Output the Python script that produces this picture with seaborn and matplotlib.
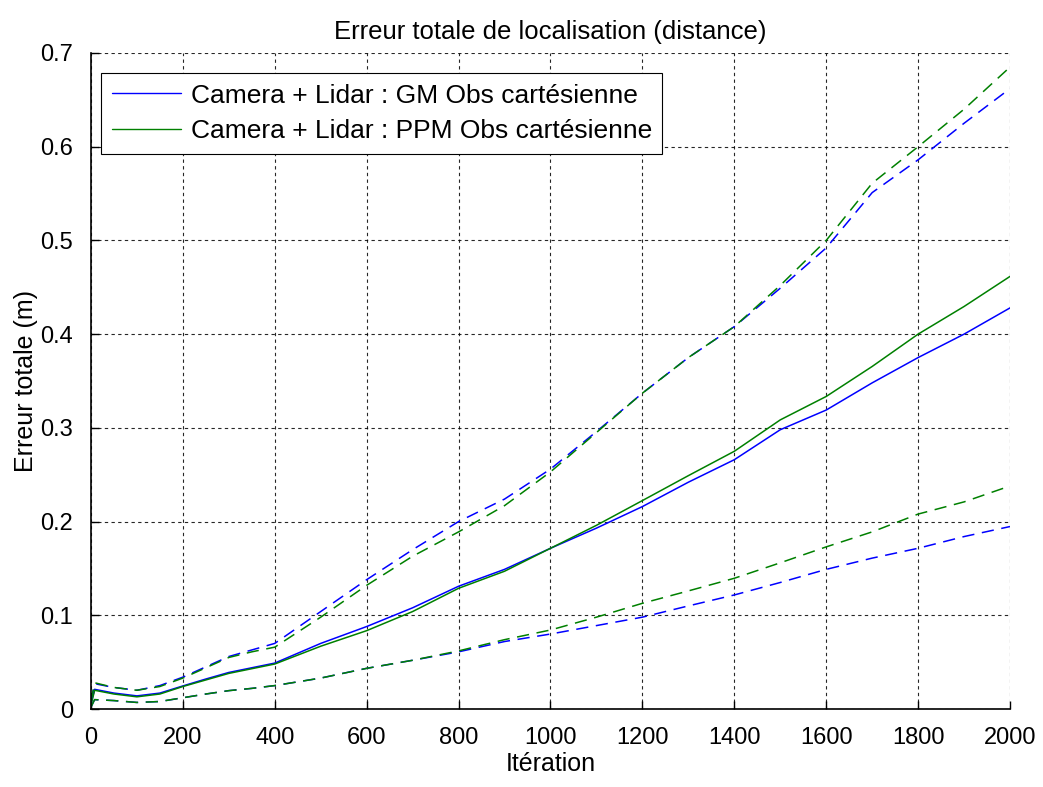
import pandas as pd
import matplotlib.pyplot as plt
import seaborn as sns

iteration = [0, 8, 50, 100, 150, 200, 250, 300, 350, 400, 500, 600, 700, 800, 900,
             1000, 1100, 1200, 1300, 1400, 1500, 1600, 1700, 1800, 1900, 2000]

# GM (blue)
gm_mean = [0.006, 0.021, 0.017, 0.014, 0.017, 0.0246, 0.032, 0.039, 0.044, 0.049, 0.070,
           0.088, 0.108, 0.131, 0.149, 0.1715, 0.193, 0.216, 0.242, 0.266, 0.298,
           0.319, 0.348, 0.375, 0.400, 0.428]
gm_upper = [0.008, 0.027, 0.023, 0.020, 0.025, 0.034, 0.045, 0.056, 0.063, 0.070, 0.104,
            0.138, 0.170, 0.200, 0.224, 0.256, 0.296, 0.337, 0.375, 0.408, 0.449,
            0.492, 0.551, 0.586, 0.625, 0.662]
gm_lower = [0.002, 0.010, 0.009, 0.007, 0.008, 0.012, 0.016, 0.0196, 0.022, 0.025, 0.033,
            0.0434, 0.052, 0.061, 0.072, 0.080, 0.089, 0.098, 0.110, 0.1217, 0.135,
            0.149, 0.161, 0.1715, 0.184, 0.1947]

# PPM (green)
ppm_mean = [0.004, 0.020, 0.016, 0.013, 0.016, 0.024, 0.031, 0.038, 0.043, 0.048, 0.067,
            0.0836, 0.104, 0.1288, 0.147, 0.1715, 0.196, 0.2224, 0.249, 0.275, 0.3085,
            0.3335, 0.3655, 0.400, 0.4295, 0.4616]
ppm_upper = [0.008, 0.028, 0.023, 0.020, 0.024, 0.033, 0.044, 0.055, 0.061, 0.066, 0.098,
             0.132, 0.163, 0.189, 0.217, 0.253, 0.295, 0.337, 0.375, 0.408, 0.452,
             0.500, 0.561, 0.600, 0.640, 0.685]
ppm_lower = [0.002, 0.010, 0.009, 0.007, 0.008, 0.012, 0.016, 0.0196, 0.022, 0.025, 0.033,
             0.0434, 0.052, 0.062, 0.074, 0.0843, 0.098, 0.1128, 0.126, 0.1395, 0.156,
             0.173, 0.189, 0.208, 0.221, 0.238]

label_gm = "Camera + Lidar : GM Obs cartésienne"
label_ppm = "Camera + Lidar : PPM Obs cartésienne"
blue = (0, 0, 1)
green = (0, 0.5, 0)

sns.set_style('white')
plt.rcParams['font.family'] = ['Liberation Sans', 'DejaVu Sans']
plt.rcParams['text.color'] = 'black'
plt.rcParams['axes.labelcolor'] = 'black'
plt.rcParams['xtick.color'] = 'black'
plt.rcParams['ytick.color'] = 'black'

fig = plt.figure(figsize=(10.43, 7.87), dpi=100)
ax = fig.add_axes([0.0872, 0.0991, 0.8812, 0.8336])

series = [
    (gm_mean, blue, '-'), (ppm_mean, green, '-'),
    (gm_upper, blue, '--'), (ppm_upper, green, '--'),
    (gm_lower, blue, '--'), (ppm_lower, green, '--'),
]
for values, color, ls in series:
    df = pd.DataFrame({'iteration': iteration, 'erreur': values})
    sns.lineplot(x='iteration', y='erreur', data=df, color=color, estimator=None,
                 ax=ax, lw=1.1, legend=False)
    if ls == '--':
        ax.lines[-1].set_dashes((8, 5))

ax.set_xlim(0, 2000)
ax.set_ylim(0, 0.7)
ax.set_xticks(range(0, 2001, 200))
ax.set_yticks([0, 0.1, 0.2, 0.3, 0.4, 0.5, 0.6, 0.7])
ax.set_yticklabels(['0', '0.1', '0.2', '0.3', '0.4', '0.5', '0.6', '0.7'])
ax.grid(True, color='black', linestyle=(0, (3, 3)), linewidth=0.8, alpha=0.85)
ax.tick_params(axis='both', direction='in', length=6, width=1, labelsize=17,
               left=True, bottom=True)
ax.tick_params(axis='x', pad=13)
ax.tick_params(axis='y', pad=13)
for s in ['top', 'right']:
    ax.spines[s].set_visible(False)
for s in ['left', 'bottom']:
    ax.spines[s].set_color('black')
    ax.spines[s].set_linewidth(1.2)

ax.set_title('Erreur totale de localisation (distance)', fontsize=18.5, pad=10)
ax.set_xlabel('Itération', fontsize=18)
ax.set_ylabel('Erreur totale (m)', fontsize=18)
ax.xaxis.set_label_coords(0.5, -0.066)
ax.yaxis.set_label_coords(-0.058, 0.5)

handles = [plt.Line2D([], [], color=blue, lw=1.0), plt.Line2D([], [], color=green, lw=1.0)]
leg = ax.legend(handles, [label_gm, label_ppm], loc='upper left', bbox_to_anchor=(0.0109, 0.9695),
                borderaxespad=0, fontsize=19, frameon=True, fancybox=False, handlelength=2.65,
                handletextpad=0.35, borderpad=0.4, labelspacing=0.45)
leg.get_frame().set_edgecolor('black')
leg.get_frame().set_linewidth(0.8)
leg.get_frame().set_alpha(1)

fig.savefig('out.png', dpi=100)
